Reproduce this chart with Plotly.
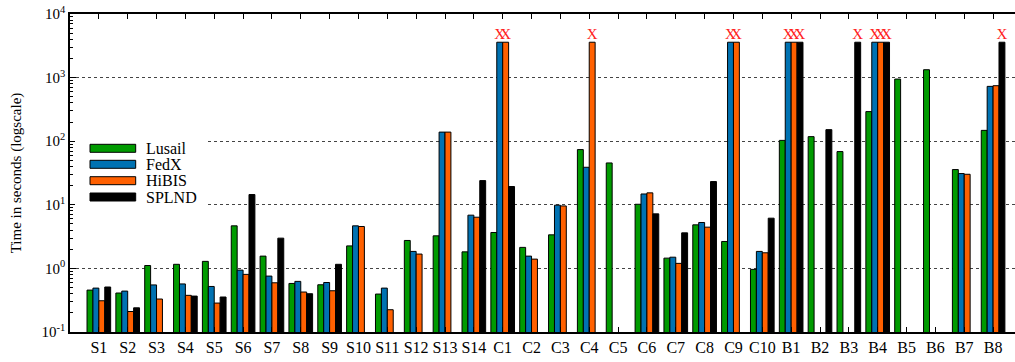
import plotly.graph_objects as go

TIMEOUT = 3600
T = TIMEOUT

categories = ["S1", "S2", "S3", "S4", "S5", "S6", "S7", "S8", "S9", "S10", "S11", "S12", "S13", "S14",
              "C1", "C2", "C3", "C4", "C5", "C6", "C7", "C8", "C9", "C10",
              "B1", "B2", "B3", "B4", "B5", "B6", "B7", "B8"]

lusail = [0.456, 0.41, 1.11, 1.16, 1.29, 4.67, 1.56, 0.58, 0.553, 2.26, 0.395, 2.75, 3.25, 1.82,
          3.67, 2.14, 3.37, 73.8, 45.5, 10.2, 1.45, 4.84, 2.65, 0.965,
          103, 118, 68.7, 292, 948, 1330, 35.8, 148]
fedx = [0.49, 0.44, 0.55, 0.57, 0.52, 0.94, 0.757, 0.625, 0.60, 4.67, 0.49, 1.85, 139, 6.87,
        T, 1.56, 9.86, 38.9, None, 14.8, 1.50, 5.27, T, 1.85,
        T, None, None, T, None, None, 31.0, 728]
hibis = [0.31, 0.21, 0.33, 0.377, 0.285, 0.805, 0.594, 0.425, 0.445, 4.56, 0.224, 1.68, 139, 6.38,
         T, 1.40, 9.6, T, None, 15.4, 1.2, 4.45, T, 1.76,
         T, None, None, T, None, None, 30.2, 746]
splnd = [0.51, 0.24, None, 0.367, 0.355, 14.5, 2.99, 0.40, 1.16, None, None, None, None, 24.0,
         19.4, None, None, None, None, 7.2, 3.62, 23.2, None, 6.16,
         T, 152, T, T, None, None, None, T]

series_names = ["Lusail", "FedX", "HiBIS", "SPLND"]
series_values = [lusail, fedx, hibis, splnd]
series_colors = ["#009b00", "#0072b2", "#ff6000", "#000000"]

y_tickvals = [0.1, 1, 10, 100, 1000, 10000]
y_ticktext = ["10<sup>-1</sup>", "10<sup>0</sup>", "10<sup>1</sup>", "10<sup>2</sup>",
              "10<sup>3</sup>", "10<sup>4</sup>"]

FONT = "Liberation Serif, Times New Roman, serif"
xpos = list(range(len(categories)))

fig = go.Figure()
for name, vals, col in zip(series_names, series_values, series_colors):
    fig.add_trace(go.Bar(
        x=xpos, y=vals, name=name,
        marker=dict(color=col, line=dict(color="black", width=1)),
        text=["X" if v == TIMEOUT else None for v in vals],
        textposition="outside", textangle=0, constraintext="none",
        textfont=dict(color="#ff2020", size=15, family=FONT),
        cliponaxis=False, showlegend=False,
    ))

minor_vals = [m * 10 ** e for e in range(-1, 4) for m in range(2, 10)]

fig.update_layout(
    width=1015, height=362,
    margin=dict(l=70, r=0, t=14, b=30),
    paper_bgcolor="white", plot_bgcolor="white",
    barmode="group", bargap=0.18, bargroupgap=0,
    font=dict(family=FONT, size=15, color="black"),
    uniformtext=dict(minsize=14, mode="show"),
    xaxis=dict(
        range=[-1, 31.76], tickvals=xpos, ticktext=categories,
        ticks="inside", ticklen=5, tickcolor="black", tickwidth=1,
        showline=True, linecolor="black", linewidth=1.5, mirror="ticks",
        showgrid=False, zeroline=False, tickfont=dict(size=16, family=FONT),
    ),
    yaxis=dict(
        type="log", range=[-1, 4], tickvals=y_tickvals, ticktext=y_ticktext,
        ticks="inside", ticklen=6, tickcolor="black", tickwidth=1,
        minor=dict(tickvals=minor_vals, ticks="inside", ticklen=3, tickcolor="black", showgrid=False),
        showline=True, linecolor="black", linewidth=1.5,
        showgrid=True, gridcolor="#444444", griddash="dot", gridwidth=1,
        zeroline=False, tickfont=dict(size=15, family=FONT),
        title=dict(text="Time in seconds (logscale)", font=dict(size=15, family=FONT), standoff=16),
    ),
)

# custom legend (wide swatches), white background box
W, H = 945.0, 318.0
def px(xp):
    return (xp - 70) / W
def py(yp):
    return (332 - yp) / H

fig.add_shape(type="rect", xref="paper", yref="paper", layer="above",
              x0=px(75), x1=px(205), y0=py(212), y1=py(134),
              fillcolor="white", line=dict(width=0))
row_centers = [148.3, 164.3, 180.7, 197.0]
for name, col, yc in zip(series_names, series_colors, row_centers):
    fig.add_shape(type="rect", xref="paper", yref="paper", layer="above",
                  x0=px(90), x1=px(135.7), y0=py(yc + 4), y1=py(yc - 4),
                  fillcolor=col, line=dict(color="black", width=1))
    fig.add_annotation(xref="paper", yref="paper", x=px(144), y=py(yc),
                       text=name, showarrow=False, xanchor="left", yanchor="middle",
                       font=dict(size=16, family=FONT, color="black"))

fig.write_html("out.html", config={"displayModeBar": False},
               post_script="document.body.style.margin='0';document.body.style.padding='0';")
